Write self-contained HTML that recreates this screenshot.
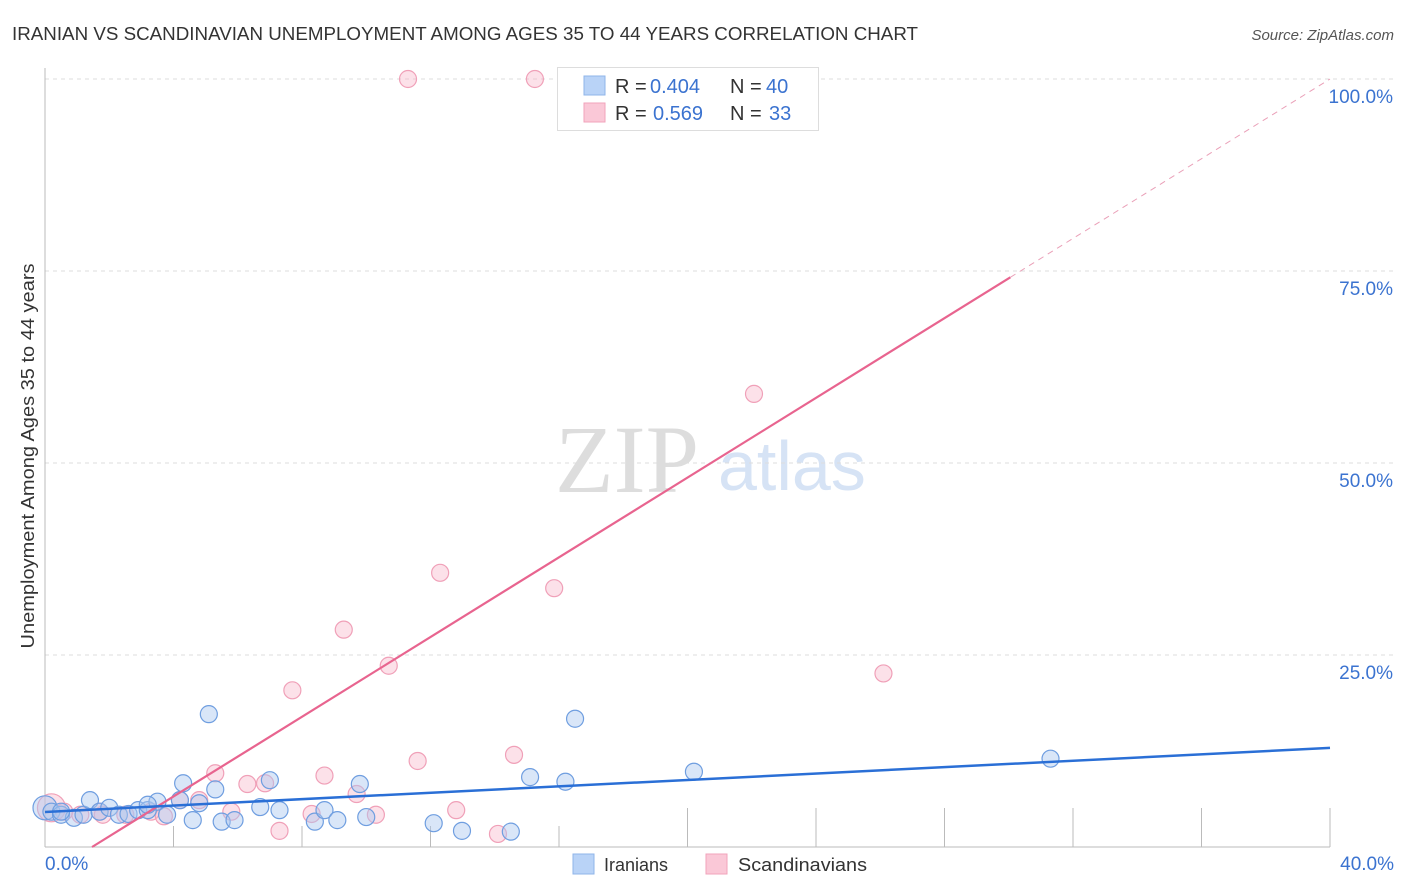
<!DOCTYPE html>
<html><head><meta charset="utf-8"><style>
body{margin:0;background:#fff;font-family:"Liberation Sans",sans-serif;}
svg{display:block}
</style></head><body>
<svg id="chart" width="1406" height="892">
<text x="12" y="40" font-size="18" fill="#333" textLength="906" lengthAdjust="spacingAndGlyphs">IRANIAN VS SCANDINAVIAN UNEMPLOYMENT AMONG AGES 35 TO 44 YEARS CORRELATION CHART</text>
<text x="1394" y="40" font-size="15" fill="#555" font-style="italic" text-anchor="end">Source: ZipAtlas.com</text>
<text x="34" y="456" font-size="18" fill="#333" text-anchor="middle" transform="rotate(-90 34 456)" textLength="385" lengthAdjust="spacingAndGlyphs">Unemployment Among Ages 35 to 44 years</text>
<text x="555" y="492" font-size="96" fill="#ddd" font-family="Liberation Serif,serif">ZIP</text>
<text x="718" y="490" font-size="70" fill="#d6e3f5">atlas</text>
<g id="grid"></g><g id="marks"></g><g id="lines"></g>
<g font-size="20">
<rect x="557.5" y="67.5" width="261" height="63" fill="#fff" stroke="#ddd"/>
<rect x="584" y="76" width="21" height="19" fill="#b9d3f7" stroke="#8fb4ea"/>
<rect x="584" y="103" width="21" height="19" fill="#fac8d7" stroke="#f1a3bb"/>
<text x="615" y="93" fill="#333">R =</text>
<text x="650" y="93" fill="#3b73d0">0.404</text>
<text x="730" y="93" fill="#333">N =</text>
<text x="766" y="93" fill="#3b73d0">40</text>
<text x="615" y="120" fill="#333">R =</text>
<text x="653" y="120" fill="#3b73d0">0.569</text>
<text x="730" y="120" fill="#333">N =</text>
<text x="769" y="120" fill="#3b73d0">33</text>
</g>
<g>
<rect x="573" y="854" width="21" height="20" fill="#b9d3f7" stroke="#8fb4ea"/>
<text x="604" y="871" font-size="18" fill="#333">Iranians</text>
<rect x="706" y="854" width="21" height="20" fill="#fac8d7" stroke="#f1a3bb"/>
<text x="738" y="871" font-size="18" fill="#333" textLength="129" lengthAdjust="spacingAndGlyphs">Scandinavians</text>
</g>
</svg>
<script>
const yTicks=[25,50,75,100];
const yTickLabels=["25.0%","50.0%","75.0%","100.0%"];
const xTickLabels=["0.0%","40.0%"];
const blueX=[0,0.2,0.5,0.9,1.2,1.4,1.7,2.0,2.3,2.6,2.9,3.2,3.5,3.8,4.3,4.2,4.6,4.8,5.1,5.3,5.5,5.9,6.7,7.0,7.3,8.4,8.7,9.1,9.8,10.0,12.1,12.98,14.5,15.1,16.2,16.5,20.2,31.3,0.5,3.2];
const blueY=[5.1,4.6,4.2,3.8,4.2,6.1,4.6,5.1,4.2,4.3,4.8,4.8,5.9,4.2,8.3,6.1,3.5,5.7,17.3,7.5,3.3,3.5,5.2,8.7,4.8,3.3,4.8,3.5,8.2,3.9,3.1,2.1,2.0,9.1,8.5,16.7,9.8,11.5,4.6,5.5];
const pinkX=[0.2,0.6,1.1,1.8,2.5,3.3,3.7,4.2,4.8,5.3,5.8,6.3,6.85,7.3,7.7,8.3,8.7,9.3,9.7,10.3,10.7,11.3,11.6,12.3,12.8,14.1,14.6,15.25,15.85,20.7,22.07,26.1,1.7];
const pinkY=[5.1,4.6,4.2,4.2,4.2,4.6,4.0,6.1,6.1,9.6,4.6,8.2,8.3,2.1,20.4,4.3,9.3,28.3,6.9,4.2,23.6,100,11.2,35.7,4.8,1.7,12.0,100,33.7,100,59.0,22.6,4.6];
const blueLine=[4.56,12.9], pinkLine=[-3.8,100], pinkSolidEnd=30.05;
const NS="http://www.w3.org/2000/svg";
const X=v=>45+v*32.125, Y=v=>847-v*7.68;
function mk(tag,attrs,parent){const e=document.createElementNS(NS,tag);for(const k in attrs)e.setAttribute(k,attrs[k]);parent.appendChild(e);return e;}
const grid=document.getElementById('grid'),marks=document.getElementById('marks'),lines=document.getElementById('lines');
yTicks.forEach((t,i)=>{
 const g=mk('line',{x1:45,x2:1394,y1:Y(t),y2:Y(t),stroke:'#ddd','stroke-dasharray':'4 4'},grid);
 
 
 const l=mk('text',{x:1393,y:Y(t)+24,'font-size':19,fill:'#3b73d0','text-anchor':'end'},grid);l.textContent=yTickLabels[i];
 
 
});
const ax=mk('line',{x1:45,x2:45,y1:68,y2:847,stroke:'#bbb'},grid);


const bx=mk('line',{x1:45,x2:1330,y1:847,y2:847,stroke:'#bbb'},grid);


for(let i=1;i<=10;i++){
 const t=mk('line',{x1:X(i*4),x2:X(i*4),y1:(i<=4?826:808),y2:847,stroke:'#bbb'},grid);
 
 
}
[[0,'start',45],[40,'end',1394]].forEach((a,i)=>{
 const t=mk('text',{x:a[2],y:870,'font-size':19,fill:'#3b73d0','text-anchor':a[1]},grid);t.textContent=xTickLabels[i];
 
 
});
pinkX.forEach((x,i)=>{
 const c=mk('circle',{cx:X(x),cy:Y(pinkY[i]),r:i==0?14:8.5,fill:'rgba(248,180,200,0.4)',stroke:'#f0a0b8','stroke-width':1.2},marks);
 
 
});
blueX.forEach((x,i)=>{
 const c=mk('circle',{cx:X(x),cy:Y(blueY[i]),r:i==0?12:8.5,fill:'rgba(170,200,240,0.45)',stroke:'#6f9ee0','stroke-width':1.2},marks);
 
 
});
const pAt=x=>pinkLine[0]+(pinkLine[1]-pinkLine[0])*x/40;
const x0=-pinkLine[0]/((pinkLine[1]-pinkLine[0])/40);
const ps=mk('line',{x1:X(x0),y1:Y(0),x2:X(pinkSolidEnd),y2:Y(pAt(pinkSolidEnd)),stroke:'#e8648f','stroke-width':2.2},lines);


const pd=mk('line',{x1:X(pinkSolidEnd),y1:Y(pAt(pinkSolidEnd)),x2:X(40),y2:Y(pinkLine[1]),stroke:'#eaa0b8','stroke-width':1,'stroke-dasharray':'6 5'},lines);


const bl=mk('line',{x1:X(0),y1:Y(blueLine[0]),x2:X(40),y2:Y(blueLine[1]),stroke:'#2a6fd6','stroke-width':2.5},lines);


</script>
</body></html>
